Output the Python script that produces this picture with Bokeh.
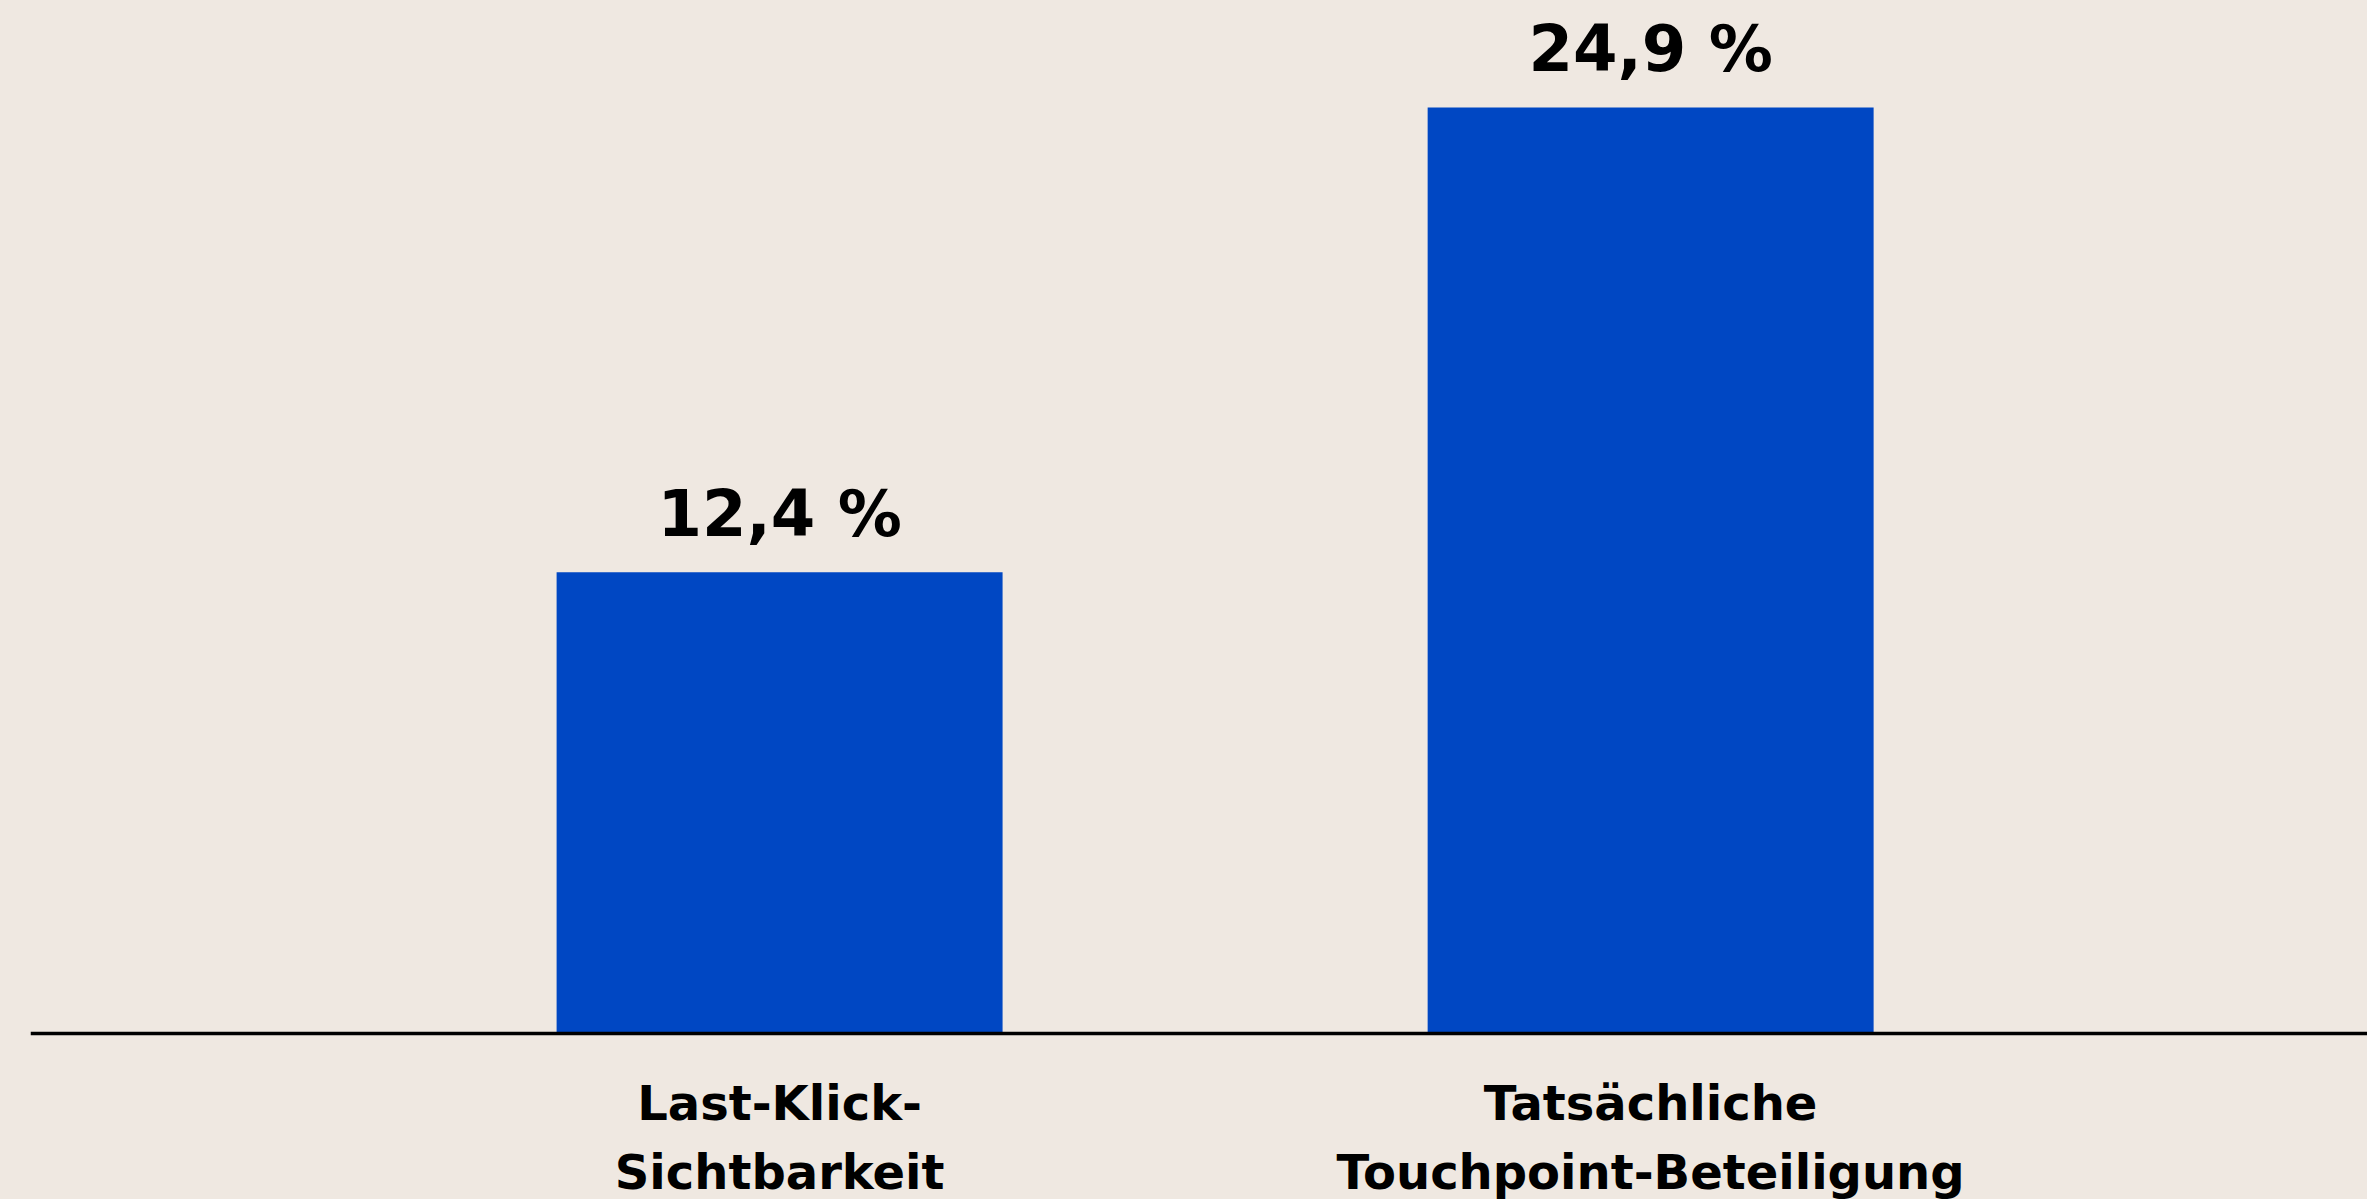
from bokeh.plotting import figure
from bokeh.models import ColumnDataSource, Range1d, Span
from bokeh.core.properties import value
from bokeh.embed import file_html
from bokeh.resources import INLINE

# ---- data ----
categories = ["Last-Klick-\nSichtbarkeit", "Tatsächliche\nTouchpoint-Beteiligung"]
values = [12.4, 24.9]
value_labels = ["12,4 %", "24,9 %"]

BG = "#EFE8E1"
BAR = "#0047C3"

W, H = 2367, 1199
idx = list(range(len(categories)))

src = ColumnDataSource(dict(x=idx, top=values, cat=categories, lab=value_labels))

p = figure(width=W, height=H, output_backend="svg", toolbar_location=None,
           x_range=Range1d(-0.86, 1.823), y_range=Range1d(-4.464, 27.776),
           min_border_left=30, min_border_right=0, min_border_top=0, min_border_bottom=0)
p.axis.visible = False
p.grid.visible = False
p.outline_line_color = None
p.background_fill_color = BG
p.border_fill_color = BG

p.vbar(x="x", top="top", bottom=0, width=0.512, source=src, fill_color=BAR, line_color=None)

p.add_layout(Span(location=0, dimension="width", line_color="black", line_width=3.5))

p.text(x="x", y="top", text="lab", source=src, text_align="center", text_baseline="alphabetic",
       y_offset=-58, text_font=value("DejaVu Sans"), text_font_style="bold",
       text_font_size="64px", text_color="black")

p.text(x="x", y=0, text="cat", source=src, text_align="center", text_baseline="top",
       y_offset=42, text_font=value("DejaVu Sans"), text_font_style="bold",
       text_font_size="48px", text_color="black", text_line_height=1.22)

tmpl = """{% block preamble %}<style>html,body{margin:0 !important;padding:0;background:#EFE8E1;overflow:hidden;}</style>{% endblock %}"""
open("out.html", "w").write(file_html(p, INLINE, template=tmpl))
